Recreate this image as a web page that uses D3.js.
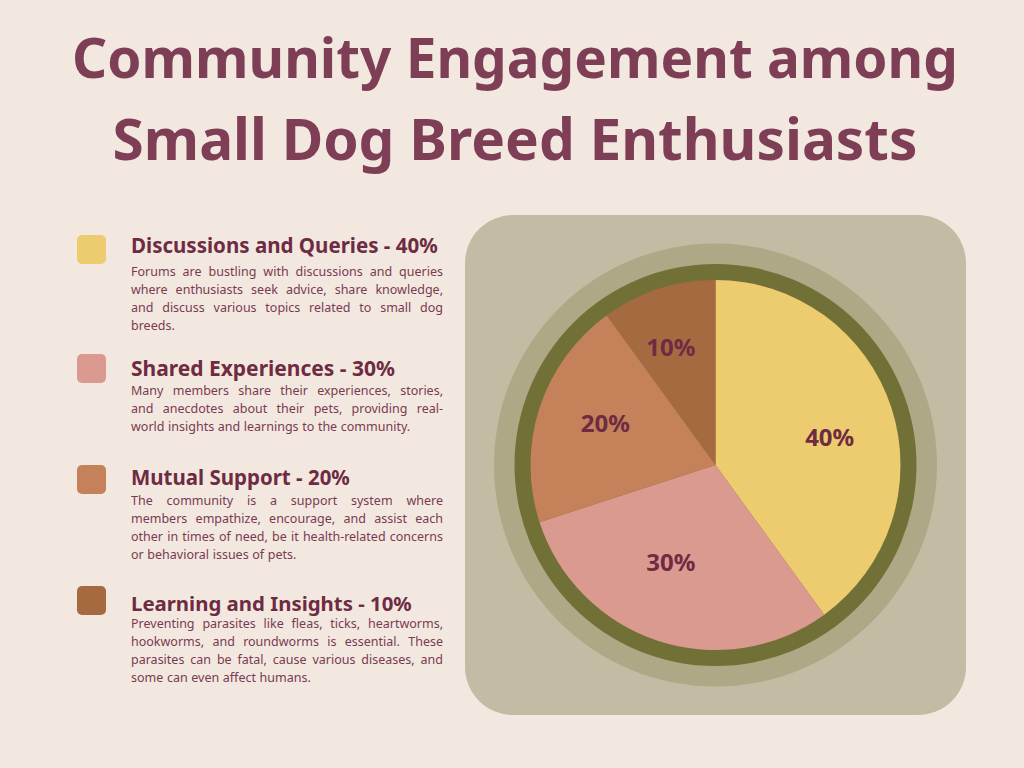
<!DOCTYPE html>
<html><head><meta charset="utf-8">
<script src="https://cdn.jsdelivr.net/npm/d3@7"></script>
<style>html,body{margin:0;padding:0;background:#F2E8E0;}svg{display:block;}</style>
</head><body>
<script>
const categories = ["Discussions and Queries", "Shared Experiences", "Mutual Support", "Learning and Insights"];
const values = [40, 30, 20, 10];
const colors = ["#EDCB6F", "#DB9A90", "#C4815A", "#A66A40"];
const titleLines = ["Community Engagement among", "Small Dog Breed Enthusiasts"];
const descriptions = [
  ["Forums are bustling with discussions and queries", "where enthusiasts seek advice, share knowledge,", "and discuss various topics related to small dog", "breeds."],
  ["Many members share their experiences, stories,", "and anecdotes about their pets, providing real-", "world insights and learnings to the community."],
  ["The community is a support system where", "members empathize, encourage, and assist each", "other in times of need, be it health-related concerns", "or behavioral issues of pets."],
  ["Preventing parasites like fleas, ticks, heartworms,", "hookworms, and roundworms is essential. These", "parasites can be fatal, cause various diseases, and", "some can even affect humans."]
];

const W = 1024, H = 768;
const svg = d3.select("body").append("svg").attr("width", W).attr("height", H);
svg.append("rect").attr("width", W).attr("height", H).attr("fill", "#F2E8E0");

const FONT = "'Noto Sans', 'Open Sans', sans-serif";

function fitWidth(t, target) {
  const w = t.node().getComputedTextLength();
  const fs = parseFloat(t.attr("font-size"));
  t.attr("font-size", fs * target / w);
}

// Title
const titleBase = [78, 160];
const titleWidths = [886, 805];
titleLines.forEach((l, i) => {
  const t = svg.append("text").attr("x", 515).attr("y", titleBase[i])
    .attr("text-anchor", "middle").attr("font-family", FONT).attr("font-weight", 700)
    .attr("font-size", 60).attr("fill", "#7E3F56").text(l);
  fitWidth(t, titleWidths[i]);
});

// Legend / descriptions
const squareTop = [235, 354, 465, 586];
const headBase = [253, 376, 485, 611];
const bodyBase = [276, 395, 505, 628];
const headW = [307, 264, 219, 281];
const textX = 131, textW = 312, lineH = 18;
categories.forEach((c, i) => {
  svg.append("rect").attr("x", 77).attr("y", squareTop[i]).attr("width", 29).attr("height", 29)
    .attr("rx", 5).attr("fill", colors[i]);
  const h = svg.append("text").attr("x", textX).attr("y", headBase[i])
    .attr("font-family", FONT).attr("font-weight", 700).attr("font-size", 20)
    .attr("fill", "#6E2B42").text(`${c} - ${values[i]}%`);
  fitWidth(h, headW[i]);
  descriptions[i].forEach((line, j) => {
    const y = bodyBase[i] + j * lineH;
    const last = j === descriptions[i].length - 1;
    const words = line.split(" ");
    const g = svg.append("g");
    const ts = words.map(w => g.append("text").attr("y", y).attr("font-family", FONT)
      .attr("font-size", 12.5).attr("fill", "#7A3A50").text(w));
    const widths = ts.map(t => t.node().getComputedTextLength());
    const total = d3.sum(widths);
    const space = last ? 3.6 : (textW - total) / Math.max(1, words.length - 1);
    let x = textX;
    ts.forEach((t, k) => { t.attr("x", x); x += widths[k] + space; });
  });
});

// Panel + pie
svg.append("rect").attr("x", 465).attr("y", 215).attr("width", 501).attr("height", 500)
  .attr("rx", 48).attr("fill", "#C3BBA3");
const cx = 715.5, cy = 465;
const g = svg.append("g").attr("transform", `translate(${cx},${cy})`);
g.append("circle").attr("r", 221.5).attr("fill", "#AFA886");
g.append("circle").attr("r", 201).attr("fill", "#717137");

const pie = d3.pie().sort(null).value(d => d)(values);
const arc = d3.arc().innerRadius(0).outerRadius(185);
const labelArc = d3.arc().innerRadius(0).outerRadius(238);
const labelNudge = [[1, 9], [-8, -16], [3, -5], [-8, -4]];
g.selectAll("path.slice").data(pie).join("path").attr("class", "slice")
  .attr("d", arc).attr("fill", (d, i) => colors[i]);
g.selectAll("text.lbl").data(pie).join("text").attr("class", "lbl")
  .attr("transform", (d, i) => {
    const [x, y] = labelArc.centroid(d);
    return `translate(${x + labelNudge[i][0]},${y + labelNudge[i][1]})`;
  })
  .attr("text-anchor", "middle").attr("dy", "0.36em")
  .attr("font-family", FONT).attr("font-weight", 700).attr("font-size", 24)
  .attr("fill", "#6E2B42").text(d => d.data + "%");
</script>
</body></html>
